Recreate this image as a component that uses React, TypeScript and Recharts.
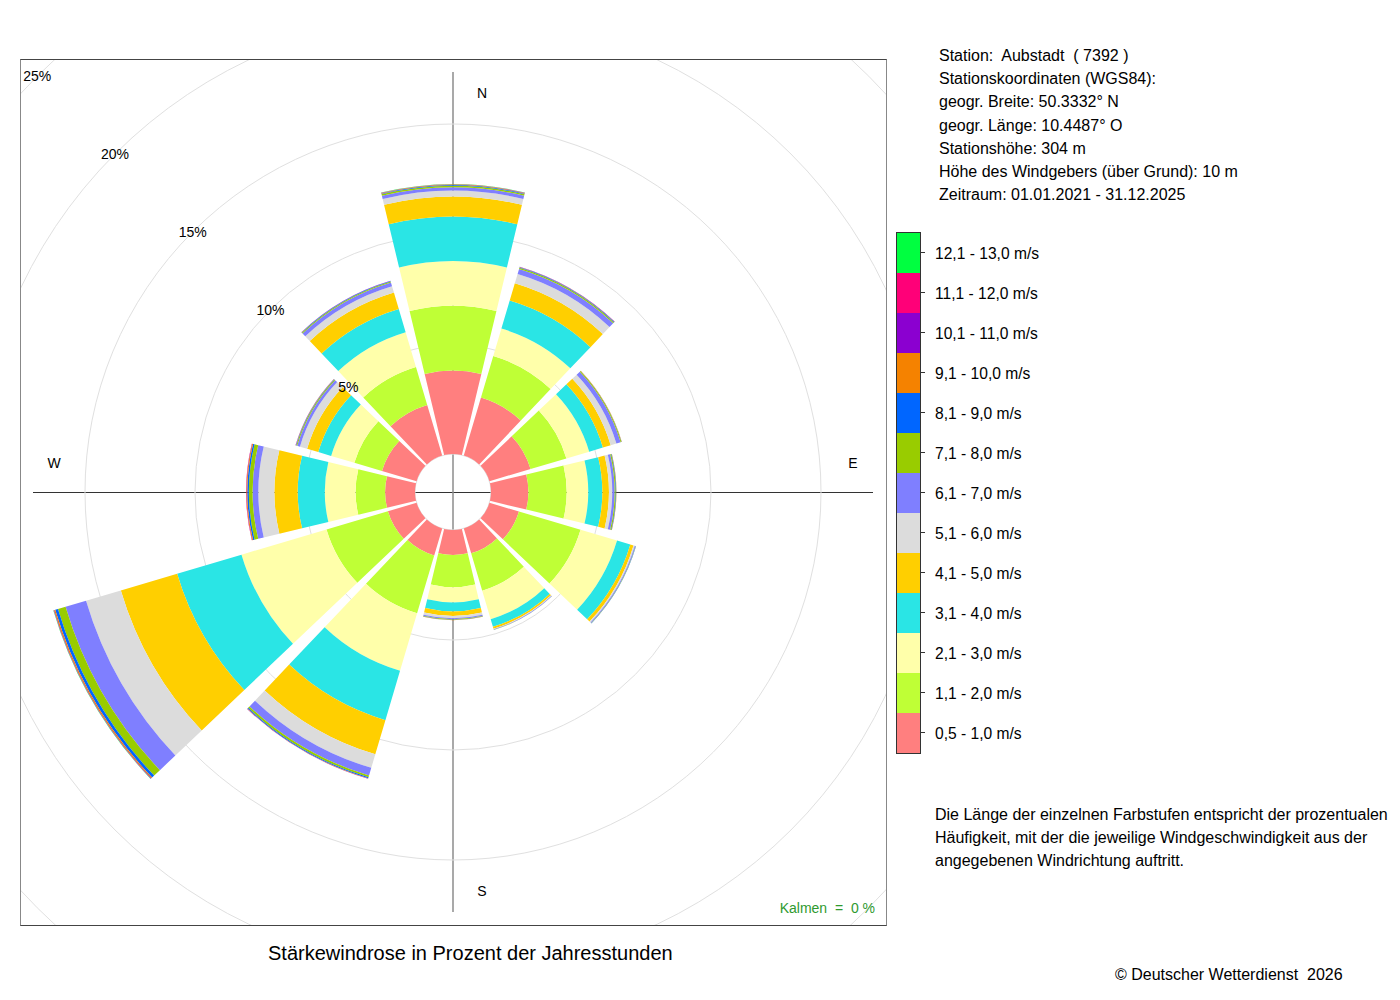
import React from 'react';
import { RadialBarChart, RadialBar, PolarAngleAxis, PolarRadiusAxis, PolarGrid, PieChart } from 'recharts';

// wind directions (degrees, clockwise from north)
const directions = [0, 30, 60, 90, 120, 150, 180, 210, 240, 270, 300, 330];

// speed classes
const speedLabels = [
  '0,5 - 1,0 m/s', '1,1 - 2,0 m/s', '2,1 - 3,0 m/s', '3,1 - 4,0 m/s', '4,1 - 5,0 m/s',
  '5,1 - 6,0 m/s', '6,1 - 7,0 m/s', '7,1 - 8,0 m/s', '8,1 - 9,0 m/s', '9,1 - 10,0 m/s',
  '10,1 - 11,0 m/s', '11,1 - 12,0 m/s', '12,1 - 13,0 m/s',
];
const speedColors = [
  '#FF7F7F', '#BFFF36', '#FFFFAA', '#2AE5E5', '#FFCF00', '#DCDCDC', '#7F7FFF',
  '#99CC00', '#0066FF', '#F58200', '#8B00D0', '#FF0078', '#00FF40',
];

// percent of annual hours per direction (order of `directions`)
const v05to10 = [3.79, 2.75, 1.95, 1.70, 1.40, 1.18, 1.14, 1.28, 1.36, 1.36, 1.64, 2.40];
const v11to20 = [2.94, 1.97, 1.70, 1.74, 2.92, 1.77, 1.46, 2.74, 2.91, 1.34, 1.31, 1.80];
const v21to30 = [2.04, 1.30, 1.08, 0.98, 1.73, 1.35, 0.69, 2.73, 4.03, 1.40, 1.10, 1.65];
const v31to40 = [2.02, 1.33, 0.65, 0.64, 0.63, 0.36, 0.41, 2.34, 3.05, 1.23, 0.61, 1.10];
const v41to50 = [0.91, 0.82, 0.37, 0.30, 0.15, 0.09, 0.21, 1.62, 2.67, 1.06, 0.53, 0.78];
const v51to60 = [0.27, 0.44, 0.27, 0.15, 0.06, 0.03, 0.10, 0.64, 1.65, 0.73, 0.34, 0.30];
const v61to70 = [0.15, 0.24, 0.20, 0.11, 0.04, 0.02, 0.05, 0.36, 0.97, 0.26, 0.13, 0.18];
const v71to80 = [0.07, 0.05, 0.04, 0.05, 0.01, 0.01, 0.02, 0.09, 0.36, 0.17, 0.04, 0.04];
const v81to90 = [0.03, 0.03, 0.01, 0.02, 0.01, 0.00, 0.01, 0.04, 0.13, 0.07, 0.02, 0.02];
const v91to100 = [0.02, 0.01, 0.01, 0.01, 0.00, 0.00, 0.01, 0.02, 0.05, 0.04, 0.01, 0.01];
const v101to110 = [0.01, 0.01, 0.00, 0.00, 0.00, 0.00, 0.00, 0.01, 0.02, 0.01, 0.01, 0.01];
const v111to120 = [0.01, 0.00, 0.00, 0.00, 0.00, 0.00, 0.00, 0.00, 0.01, 0.01, 0.00, 0.00];
const v121to130 = [0.01, 0.00, 0.00, 0.00, 0.00, 0.00, 0.00, 0.00, 0.01, 0.00, 0.00, 0.00];

const percentTicks = [0, 5, 10, 15, 20, 25];

const infoLines = [
  'Station:  Aubstadt  ( 7392 )',
  'Stationskoordinaten (WGS84):',
  'geogr. Breite: 50.3332° N',
  'geogr. Länge: 10.4487° O',
  'Stationshöhe: 304 m',
  'Höhe des Windgebers (über Grund): 10 m',
  'Zeitraum: 01.01.2021 - 31.12.2025',
];
const noteLines = [
  'Die Länge der einzelnen Farbstufen entspricht der prozentualen',
  'Häufigkeit, mit der die jeweilige Windgeschwindigkeit aus der',
  'angegebenen Windrichtung auftritt.',
];

const speedSeries = [
  v05to10, v11to20, v21to30, v31to40, v41to50, v51to60, v61to70,
  v71to80, v81to90, v91to100, v101to110, v111to120, v121to130,
];
const seriesKeys = speedSeries.map((_, i) => `s${i}`);
const data = directions.map((d, di) => {
  const row: Record<string, number> = { dir: d };
  speedSeries.forEach((s, si) => {
    row[seriesKeys[si]] = s[di];
  });
  return row;
});

const FONT = '"Liberation Sans", Arial, Helvetica, sans-serif';

const renderPercentTick = (props: any) => {
  const { x, y, payload } = props;
  if (!payload || payload.value === 0) return <g />;
  return (
    <text x={x} y={y} textAnchor="middle" dominantBaseline="central" fontSize={14} fill="#000" fontFamily={FONT}>
      {`${payload.value}%`}
    </text>
  );
};

const BOX = 865;
const C = 432;

export default function App() {
  return (
    <div style={{ position: 'absolute', left: 0, top: 0, width: 1400, height: 1000, background: '#fff', fontFamily: FONT, color: '#000' }}>
      {/* plot box */}
      <div
        style={{
          position: 'absolute', left: 20, top: 59, width: BOX + 2, height: BOX + 2, boxSizing: 'border-box',
          borderTop: '1px solid #444', borderBottom: '1px solid #444', borderLeft: '1px solid #888', borderRight: '1px solid #888',
          overflow: 'hidden',
        }}
      >
        <div style={{ position: 'absolute', left: 0, top: 0 }}>
          <PieChart width={BOX} height={BOX} cx={C} cy={C} innerRadius={0} outerRadius={420} margin={{ top: 0, right: 0, bottom: 0, left: 0 }}>
            <PolarGrid gridType="circle" polarRadius={[]} polarAngles={[0, 180]} stroke="#333" strokeWidth={1} shapeRendering="crispEdges" />
            <PolarGrid gridType="circle" polarRadius={[]} polarAngles={[90, 270]} stroke="#8c8c8c" strokeWidth={1.5} />
          </PieChart>
        </div>
        <div style={{ position: 'absolute', left: 0, top: 0 }}>
          <RadialBarChart
            width={BOX}
            height={BOX}
            cx={C}
            cy={C}
            innerRadius={38}
            outerRadius={588}
            startAngle={75}
            endAngle={-285}
            layout="centric"
            data={data}
            barCategoryGap="5%"
            margin={{ top: 0, right: 0, bottom: 0, left: 0 }}
          >
            <PolarGrid gridType="circle" radialLines={false} stroke="#e0e0e0" />
            <PolarAngleAxis dataKey="dir" type="category" tick={false} axisLine={false} tickLine={false} />
            {seriesKeys.map((k, i) => (
              <RadialBar key={k} dataKey={k} stackId="wind" fill={speedColors[i]} isAnimationActive={false} />
            ))}
            <PolarRadiusAxis
              type="number"
              domain={[0, 25]}
              ticks={percentTicks}
              angle={135}
              axisLine={false}
              tickLine={false}
              tick={renderPercentTick}
            />
          </RadialBarChart>
        </div>
        {/* compass labels */}
        <div style={{ position: 'absolute', left: 455, top: 25, fontSize: 14, width: 12, textAlign: 'center' }}>N</div>
        <div style={{ position: 'absolute', left: 826, top: 395, fontSize: 14, width: 12, textAlign: 'center' }}>E</div>
        <div style={{ position: 'absolute', left: 455, top: 823, fontSize: 14, width: 12, textAlign: 'center' }}>S</div>
        <div style={{ position: 'absolute', left: 26, top: 395, fontSize: 14, width: 14, textAlign: 'center' }}>W</div>
        <div style={{ position: 'absolute', right: 11, top: 840, fontSize: 14, color: '#2f9a2f', whiteSpace: 'pre' }}>{'Kalmen  =  0 %'}</div>
      </div>

      {/* station info */}
      <div style={{ position: 'absolute', left: 939, top: 44, fontSize: 16, lineHeight: '23.2px', whiteSpace: 'pre' }}>
        {infoLines.map((l, i) => (
          <div key={i}>{l}</div>
        ))}
      </div>

      {/* legend */}
      <div style={{ position: 'absolute', left: 896, top: 232, width: 25, border: '1px solid #333', boxSizing: 'border-box' }}>
        {speedColors.slice().reverse().map((c, i) => (
          <div key={i} style={{ height: 40, background: c }} />
        ))}
      </div>
      {speedLabels.slice().reverse().map((l, i) => (
        <React.Fragment key={l}>
          <div style={{ position: 'absolute', left: 921, top: 252 + i * 40, width: 4, height: 1, background: '#333' }} />
          <div style={{ position: 'absolute', left: 935, top: 244 + i * 40, fontSize: 15.6, lineHeight: '20px', whiteSpace: 'pre' }}>{l}</div>
        </React.Fragment>
      ))}

      {/* note */}
      <div style={{ position: 'absolute', left: 935, top: 803, fontSize: 16, lineHeight: '23px', whiteSpace: 'pre' }}>
        {noteLines.map((l, i) => (
          <div key={i}>{l}</div>
        ))}
      </div>

      {/* title */}
      <div style={{ position: 'absolute', left: 268, top: 942, fontSize: 20, whiteSpace: 'pre' }}>Stärkewindrose in Prozent der Jahresstunden</div>

      {/* copyright */}
      <div style={{ position: 'absolute', left: 1115, top: 966, fontSize: 16, whiteSpace: 'pre' }}>{'© Deutscher Wetterdienst  2026'}</div>
    </div>
  );
}
